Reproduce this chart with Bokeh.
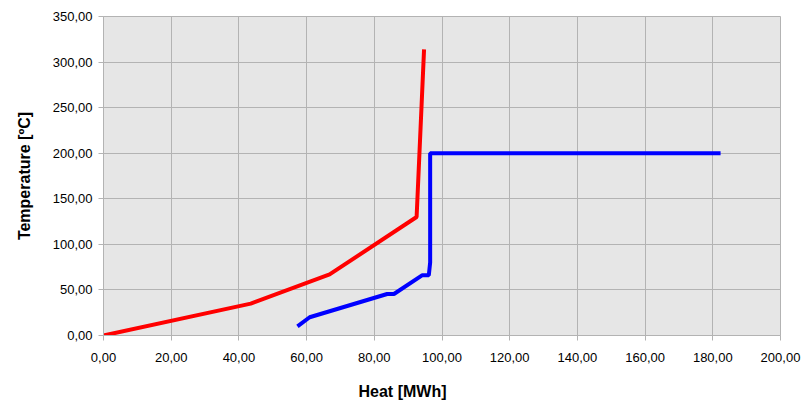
from bokeh.plotting import figure
from bokeh.models import FixedTicker, CustomJSTickFormatter, Range1d, Title
from bokeh.embed import file_html
from bokeh.resources import INLINE

# Data
red_heat = [0.0, 43.5, 66.8, 92.5, 94.7]
red_temp = [0.0, 35.0, 67.0, 130.0, 314.0]
blue_heat = [57.3, 60.9, 83.8, 85.8, 94.1, 96.1, 96.5, 96.5, 182.3]
blue_temp = [10.0, 20.0, 45.5, 45.5, 66.0, 66.0, 80.0, 200.0, 200.0]

x_ticks = [0, 20, 40, 60, 80, 100, 120, 140, 160, 180, 200]
y_ticks = [0, 50, 100, 150, 200, 250, 300, 350]
x_title = "Heat [MWh]"
y_title = "Temperature [ºC]"

FONT = "Liberation Sans"
GRID = "#b3b3b3"

p = figure(width=802, height=416, output_backend="svg", toolbar_location=None,
           x_range=Range1d(0, 200), y_range=Range1d(0, 350),
           min_border_left=103, min_border_right=22, min_border_top=16, min_border_bottom=81)
p.background_fill_color = "#e6e6e6"
p.border_fill_color = "white"
p.outline_line_color = GRID
p.outline_line_width = 1

fmt = CustomJSTickFormatter(code="return tick.toFixed(2).replace('.', ',');")
for ax, ticks in ((p.xaxis[0], x_ticks), (p.yaxis[0], y_ticks)):
    ax.ticker = FixedTicker(ticks=ticks)
    ax.formatter = fmt
    ax.axis_line_color = GRID
    ax.major_tick_line_color = GRID
    ax.major_tick_out = 5
    ax.major_tick_in = 0
    ax.minor_tick_line_color = None
    ax.major_label_text_font = FONT
    ax.major_label_text_font_size = "13px"
    ax.major_label_text_color = "black"
p.xaxis[0].major_label_standoff = 12
p.yaxis[0].major_label_standoff = 6

p.yaxis[0].axis_label = y_title
p.yaxis[0].axis_label_text_font = FONT
p.yaxis[0].axis_label_text_font_size = "16px"
p.yaxis[0].axis_label_text_font_style = "bold"
p.yaxis[0].axis_label_text_color = "black"
p.yaxis[0].axis_label_standoff = 17

p.xgrid.grid_line_color = GRID
p.ygrid.grid_line_color = GRID
p.xgrid.ticker = FixedTicker(ticks=x_ticks)
p.ygrid.ticker = FixedTicker(ticks=y_ticks)

p.line(red_heat, red_temp, line_color="#ff0000", line_width=4)
p.line(blue_heat, blue_temp, line_color="#0000ff", line_width=4)

p.add_layout(Title(text=x_title, align="left", offset=255, standoff=33,
                   text_font=FONT, text_font_size="16px", text_font_style="bold",
                   text_color="black"), "below")

open("out.html", "w").write(file_html(p, INLINE))
